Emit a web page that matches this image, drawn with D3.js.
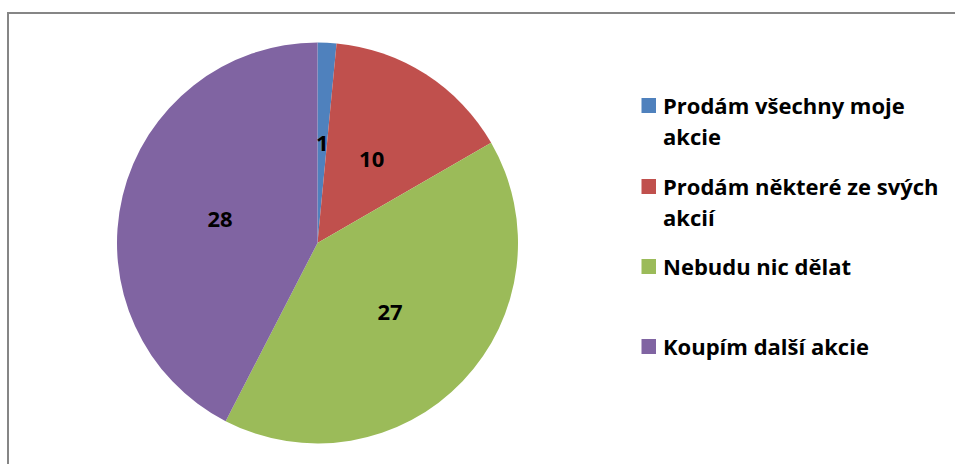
<!DOCTYPE html>
<html><head><meta charset="utf-8">
<script src="https://cdn.jsdelivr.net/npm/d3@7"></script>
<style>html,body{margin:0;padding:0;background:#fff;overflow:hidden}</style>
</head><body>
<svg id="c" width="955" height="464"></svg>
<script>
const categories = ["Prodám všechny moje akcie", "Prodám některé ze svých akcií", "Nebudu nic dělat", "Koupím další akcie"];
const values = [1, 10, 27, 28];
const legendLines = [["Prodám všechny moje", "akcie"], ["Prodám některé ze svých", "akcií"], ["Nebudu nic dělat"], ["Koupím další akcie"]];
const colors = ["#4F81BD", "#C0504D", "#9BBB59", "#8064A2"];

const svg = d3.select("#c");
const font = "'Open Sans', Lato, sans-serif";

svg.append("rect").attr("x", 8).attr("y", 13).attr("width", 960).attr("height", 470)
  .attr("fill", "#fff").attr("stroke", "#868686").attr("stroke-width", 2);

const cx = 317.5, cy = 243, R = 200.5;
const pie = d3.pie().sort(null).value(d => d);
const arcs = pie(values);
const arc = d3.arc().innerRadius(0).outerRadius(R);
const g = svg.append("g").attr("transform", `translate(${cx},${cy})`);
g.selectAll("path").data(arcs).enter().append("path")
  .attr("d", arc).attr("fill", (d, i) => colors[i]);
g.selectAll("text").data(arcs).enter().append("text")
  .attr("transform", d => `translate(${arc.centroid(d)})`)
  .attr("text-anchor", "middle").attr("dy", "0.36em")
  .attr("font-family", font).attr("font-weight", "bold").attr("font-size", 22)
  .attr("fill", "#000").text(d => d.data);

const legendTops = [98, 179, 259, 339];
const lg = svg.append("g");
categories.forEach((c, i) => {
  lg.append("rect").attr("x", 641.5).attr("y", legendTops[i]).attr("width", 14.5).attr("height", 15)
    .attr("fill", colors[i]);
  legendLines[i].forEach((line, j) => {
    const t = lg.append("text").attr("x", 663).attr("y", legendTops[i] + 16 + j * 31)
      .attr("font-family", font).attr("font-weight", "bold").attr("font-size", 22)
      .attr("fill", "#000").text(line);
    const w = t.node().getComputedTextLength();
    const maxW = 955 - 663 - 14;
    if (w > maxW) t.attr("textLength", maxW).attr("lengthAdjust", "spacingAndGlyphs");
  });
});
</script>
</body></html>
